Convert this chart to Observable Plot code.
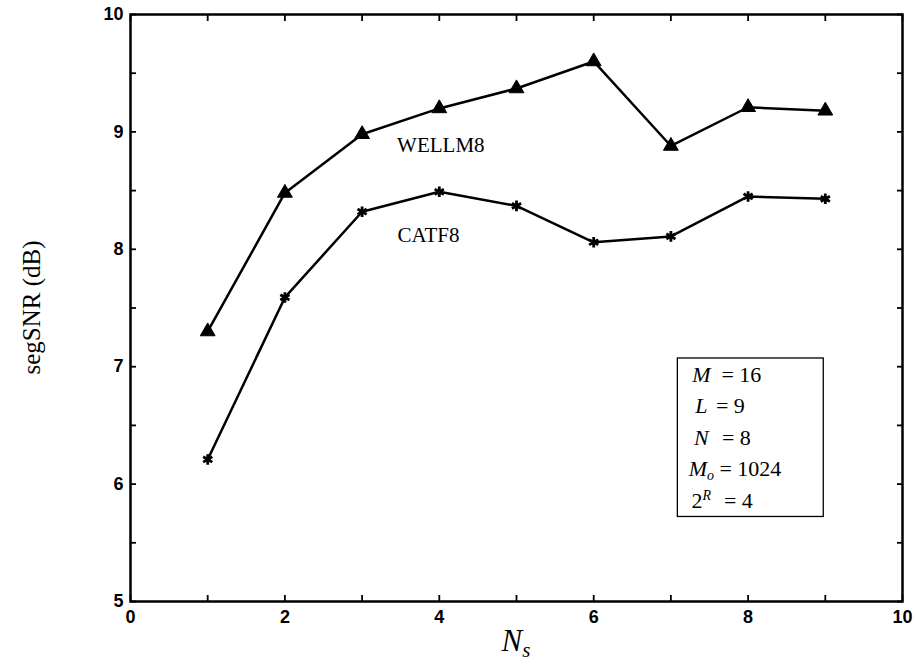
<!DOCTYPE html>
<html>
<head>
<meta charset="utf-8">
<script src="https://cdn.jsdelivr.net/npm/d3@7"></script>
<script src="https://cdn.jsdelivr.net/npm/@observablehq/plot@0.6"></script>
<style>
  html, body { margin: 0; padding: 0; background: #fff; }
  #chart { width: 916px; height: 666px; }
</style>
</head>
<body>
<div id="chart"></div>
<script>
// ---- data ----
const ns = [1, 2, 3, 4, 5, 6, 7, 8, 9];
const wellm8 = [7.30, 8.48, 8.98, 9.20, 9.37, 9.60, 8.88, 9.21, 9.18];
const catf8  = [6.21, 7.59, 8.32, 8.49, 8.37, 8.06, 8.11, 8.45, 8.43];
const xTickLabels = [0, 2, 4, 6, 8, 10];
const xTicks = [0, 1, 2, 3, 4, 5, 6, 7, 8, 9, 10];
const yTickLabels = [5, 6, 7, 8, 9, 10];
const yTicks = [5, 5.5, 6, 6.5, 7, 7.5, 8, 8.5, 9, 9.5, 10];
const seriesNames = ["WELLM8", "CATF8"];
const paramSyms = ["M", "L", "N", "M", "2"];
const paramSubs = ["", "", "", "o", ""];
const paramSups = ["", "", "", "", "R"];
const paramVals = ["16", "9", "8", "1024", "4"];

const wellRows = ns.map((n, i) => ({n, v: wellm8[i]}));
const catfRows = ns.map((n, i) => ({n, v: catf8[i]}));

// annotation placement (layout, in data units)
const seriesLabelPos = [{x: 4.02, y: 8.89}, {x: 3.86, y: 8.12}];
const labelRows = seriesNames.map((s, i) => ({name: s, ...seriesLabelPos[i]}));
const boxPos = {x1: 7.09, x2: 8.98, y1: 5.72, y2: 7.07};

const W = 916, H = 666, ML = 130, MR = 14, MT = 14, MB = 65;
const TICK = 6;
const xDom = [0, 10], yDom = [5, 10];
const tickFont = {fontFamily: "Liberation Sans", fontWeight: "bold", fontSize: 18};

const chart = Plot.plot({
  width: W,
  height: H,
  marginLeft: ML,
  marginRight: MR,
  marginTop: MT,
  marginBottom: MB,
  style: {background: "#fff", color: "#000"},
  x: {domain: xDom},
  y: {domain: yDom},
  marks: [
    // inward ticks on all four sides
    Plot.axisX({ticks: xTicks, anchor: "bottom", tickSize: TICK, dy: -TICK, tickFormat: () => "", label: null, stroke: "black", strokeWidth: 1.8}),
    Plot.axisX({ticks: xTicks, anchor: "top", tickSize: TICK, dy: TICK, tickFormat: () => "", label: null, stroke: "black", strokeWidth: 1.8}),
    Plot.axisY({ticks: yTicks, anchor: "left", tickSize: TICK, dx: TICK, tickFormat: () => "", label: null, stroke: "black", strokeWidth: 1.8}),
    Plot.axisY({ticks: yTicks, anchor: "right", tickSize: TICK, dx: -TICK, tickFormat: () => "", label: null, stroke: "black", strokeWidth: 1.8}),
    // labels
    Plot.axisX({ticks: xTickLabels, tickSize: 0, tickPadding: 9, tickFormat: d3.format("d"), label: null, ...tickFont}),
    Plot.axisY({ticks: yTickLabels, tickSize: 0, tickPadding: 7, tickFormat: d3.format("d"), label: null, ...tickFont}),
    Plot.frame({stroke: "black", strokeWidth: 2.5}),
    Plot.line(wellRows, {x: "n", y: "v", stroke: "black", strokeWidth: 2.5}),
    Plot.line(catfRows, {x: "n", y: "v", stroke: "black", strokeWidth: 2.5}),
    Plot.dot(wellRows, {x: "n", y: "v", symbol: "triangle", r: 5.5, fill: "black", stroke: "black", strokeWidth: 1}),
    Plot.dot(catfRows, {x: "n", y: "v", symbol: "asterisk", r: 5, stroke: "black", strokeWidth: 2.8}),
    Plot.text(labelRows, {x: "x", y: "y", text: "name", fontFamily: "Liberation Serif", fontSize: 21, fill: "black", letterSpacing: "0.5px"}),
    Plot.rect([boxPos], {x1: "x1", x2: "x2", y1: "y1", y2: "y2", fill: "white", stroke: "black", strokeWidth: 1.3})
  ]
});

document.getElementById("chart").appendChild(chart);

const svg = d3.select(chart);
const sx = chart.scale("x"), sy = chart.scale("y");

// axis titles
svg.append("text")
  .attr("transform", `translate(40,${(sy.apply(5) + sy.apply(10)) / 2}) rotate(-90)`)
  .attr("text-anchor", "middle")
  .attr("font-family", "Liberation Serif")
  .attr("font-size", 25)
  .attr("fill", "black")
  .text("segSNR (dB)");

const nsLabel = svg.append("text")
  .attr("x", (sx.apply(0) + sx.apply(10)) / 2)
  .attr("y", 651)
  .attr("text-anchor", "middle")
  .attr("font-family", "Liberation Serif")
  .attr("font-style", "italic")
  .attr("font-size", 31)
  .attr("fill", "black");
nsLabel.append("tspan").text("N");
nsLabel.append("tspan").attr("font-size", 21).attr("dy", 6).text("s");

// parameter box text
const bx = sx.apply(boxPos.x1) + 24;
const by0 = sy.apply(boxPos.y2) + 24;
const lineGap = 31.5;
const eqX = [bx + 40, bx + 29, bx + 35, bx + 49, bx + 37];
paramSyms.forEach((s, i) => {
  const g = svg.append("text")
    .attr("x", bx)
    .attr("y", by0 + i * lineGap)
    .attr("font-family", "Liberation Serif")
    .attr("font-size", 22)
    .attr("fill", "black");
  const isNum = /\d/.test(s);
  g.append("tspan").attr("font-style", isNum ? "normal" : "italic").text(s);
  if (paramSubs[i]) g.append("tspan").attr("font-style", "italic").attr("font-size", 14).attr("dy", 4).text(paramSubs[i]);
  if (paramSups[i]) g.append("tspan").attr("font-style", "italic").attr("font-size", 14).attr("dy", -8).text(paramSups[i]);
  svg.append("text")
    .attr("x", eqX[i])
    .attr("y", by0 + i * lineGap)
    .attr("font-family", "Liberation Serif")
    .attr("font-size", 22)
    .attr("fill", "black")
    .text("= " + paramVals[i]);
});
</script>
</body>
</html>
